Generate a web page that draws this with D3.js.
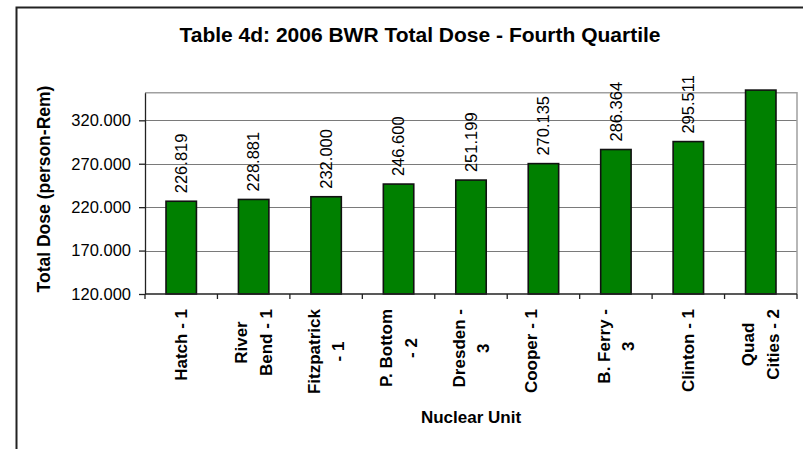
<!DOCTYPE html>
<html>
<head>
<meta charset="utf-8">
<script src="https://cdn.jsdelivr.net/npm/d3@7"></script>
<style>
  body { margin: 0; background: #fff; }
  svg { display: block; font-family: Arial, "Liberation Sans", sans-serif; }
</style>
</head>
<body>
<div id="chart"></div>
<script>
// Data
const units = ["Hatch - 1", "River Bend - 1", "Fitzpatrick - 1", "P. Bottom - 2", "Dresden - 3",
               "Cooper - 1", "B. Ferry - 3", "Clinton - 1", "Quad Cities - 2"];
const unitLabelLines = [
  ["Hatch - 1"],
  ["River", "Bend - 1"],
  ["Fitzpatrick", "- 1"],
  ["P. Bottom", "- 2"],
  ["Dresden -", "3"],
  ["Cooper - 1", ""],
  ["B. Ferry -", "3"],
  ["Clinton - 1"],
  ["Quad", "Cities - 2"]
];
const totalDose = [226.819, 228.881, 232.000, 246.600, 251.199, 270.135, 286.364, 295.511, 354.8];
const yTicks = [120, 170, 220, 270, 320];
const yMin = 120, yMax = 351.8;

const W = 803, H = 449;
const plot = { left: 145, right: 797, top: 92.7, bottom: 294 };

const svg = d3.select("#chart").append("svg")
  .attr("width", W)
  .attr("height", H);

// outer chart frame (cropped on right and bottom)
svg.append("rect")
  .attr("x", 16.5).attr("y", 7.5)
  .attr("width", 900).attr("height", 600)
  .attr("fill", "#fff")
  .attr("stroke", "#222")
  .attr("stroke-width", 2);

// title
svg.append("text")
  .attr("x", 420)
  .attr("y", 42)
  .attr("text-anchor", "middle")
  .style("font-size", "21px")
  .style("font-weight", "bold")
  .style("fill", "#000")
  .text("Table 4d: 2006 BWR Total Dose - Fourth Quartile");

const x = d3.scaleBand()
  .domain(units)
  .range([plot.left, plot.right])
  .padding(0);

const y = d3.scaleLinear()
  .domain([yMin, yMax])
  .range([plot.bottom, plot.top]);

const barW = x.bandwidth() * 0.42;

// grid lines
svg.append("g")
  .selectAll("line")
  .data(yTicks.filter(t => t > yMin))
  .join("line")
  .attr("x1", plot.left).attr("x2", plot.right)
  .attr("y1", d => Math.round(y(d)) + 0.5)
  .attr("y2", d => Math.round(y(d)) + 0.5)
  .attr("stroke", "#7a7a7a")
  .attr("stroke-width", 1.2);

// plot area border (top and right)
svg.append("path")
  .attr("d", `M${plot.left},${plot.top}H${plot.right}V${plot.bottom}`)
  .attr("fill", "none")
  .attr("stroke", "#a0a0a0")
  .attr("stroke-width", 1.5);

// bars
svg.append("g")
  .selectAll("rect")
  .data(units)
  .join("rect")
  .attr("x", (d, i) => x(d) + x.bandwidth() / 2 - barW / 2)
  .attr("width", barW)
  .attr("y", (d, i) => y(totalDose[i]))
  .attr("height", (d, i) => y(yMin) - y(totalDose[i]))
  .attr("fill", "#008000")
  .attr("stroke", "#111")
  .attr("stroke-width", 1.6);

// data labels (those above the axis max are clipped in the original)
svg.append("g")
  .selectAll("text")
  .data(units.map((u, i) => ({ u, v: totalDose[i] })).filter(d => d.v <= yMax))
  .join("text")
  .attr("transform", d => `translate(${x(d.u) + x.bandwidth() / 2},${y(d.v) - 8}) rotate(-90)`)
  .attr("dy", "0.35em")
  .attr("text-anchor", "start")
  .style("font-size", "16.5px")
  .style("fill", "#000")
  .text(d => d.v.toFixed(3));

// y axis
const yAxis = svg.append("g")
  .attr("transform", `translate(${plot.left},0)`)
  .call(d3.axisLeft(y)
    .tickValues(yTicks)
    .tickSize(6)
    .tickPadding(8)
    .tickSizeOuter(0)
    .tickFormat(d3.format(".3f")));
yAxis.select(".domain").attr("stroke", "#222").attr("stroke-width", 1.3);
yAxis.selectAll(".tick line").attr("stroke", "#222").attr("stroke-width", 1.3);
yAxis.selectAll(".tick text")
  .style("font-size", "16.5px")
  .style("font-family", "Arial, 'Liberation Sans', sans-serif")
  .attr("fill", "#000");

// x axis line and boundary ticks
const xAxis = svg.append("g");
xAxis.append("line")
  .attr("x1", plot.left).attr("x2", plot.right)
  .attr("y1", plot.bottom).attr("y2", plot.bottom)
  .attr("stroke", "#222").attr("stroke-width", 1.3);
xAxis.selectAll(".bound")
  .data(units.map(u => x(u)).concat([plot.right]))
  .join("line")
  .attr("class", "bound")
  .attr("x1", d => d).attr("x2", d => d)
  .attr("y1", plot.bottom).attr("y2", plot.bottom + 5)
  .attr("stroke", "#222").attr("stroke-width", 1.3);

// category labels: rotated, wrapped lines centered on the longest line
const lineGap = 24.5;
const labelTop = 309;
units.forEach((u, i) => {
  const lines = unitLabelLines[i];
  const cx = x(u) + x.bandwidth() / 2;
  const g = svg.append("g");
  const texts = lines.map((ln, j) => g.append("text")
    .attr("text-anchor", "middle")
    .attr("dy", "0.35em")
    .style("font-size", "17px")
    .style("font-weight", "bold")
    .style("fill", "#000")
    .text(ln));
  const maxLen = d3.max(texts, t => t.node().getComputedTextLength());
  const cy = labelTop + maxLen / 2;
  texts.forEach((t, j) => {
    const lx = cx + (j - (lines.length - 1) / 2) * lineGap;
    t.attr("transform", `translate(${lx},${cy}) rotate(-90)`);
  });
});

// axis titles
svg.append("text")
  .attr("x", (plot.left + plot.right) / 2)
  .attr("y", 423)
  .attr("text-anchor", "middle")
  .style("font-size", "17px")
  .style("font-weight", "bold")
  .text("Nuclear Unit");

svg.append("text")
  .attr("transform", `translate(44,189) rotate(-90)`)
  .attr("dy", "0.35em")
  .attr("text-anchor", "middle")
  .style("font-size", "17.5px")
  .style("font-weight", "bold")
  .text("Total Dose (person-Rem)");
</script>
</body>
</html>
